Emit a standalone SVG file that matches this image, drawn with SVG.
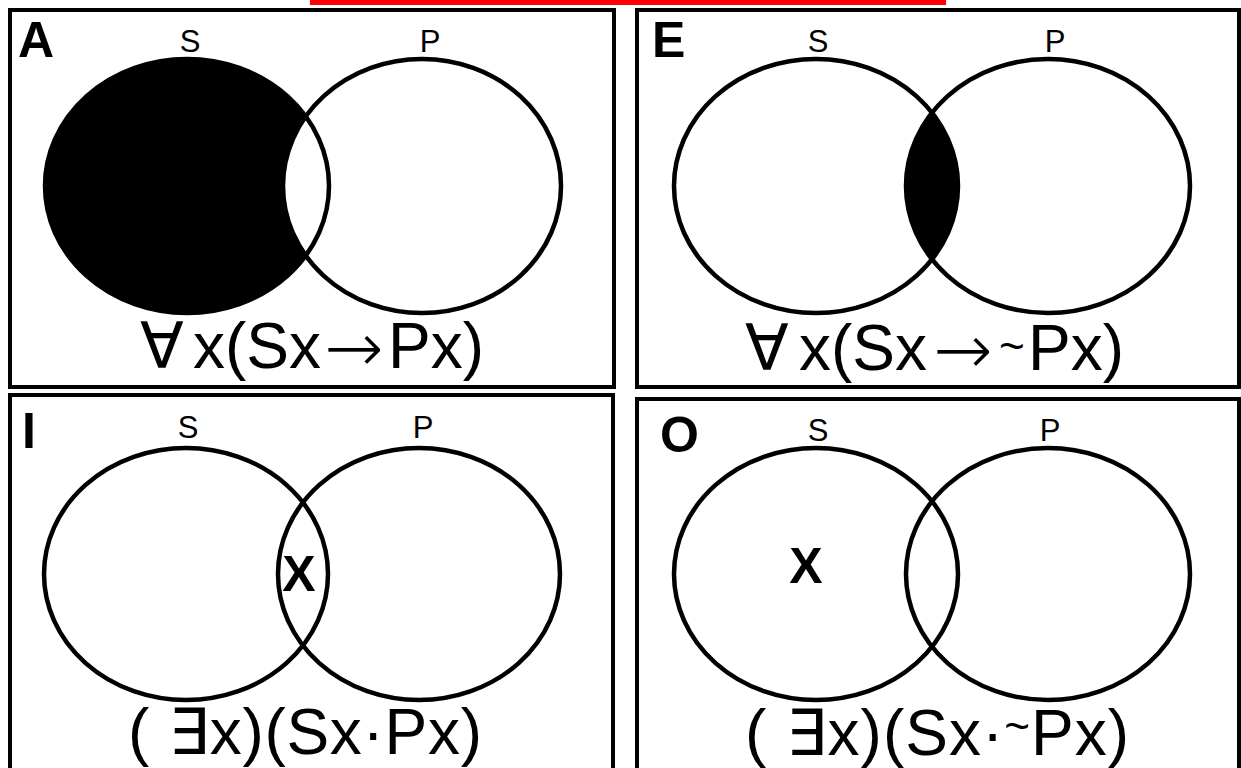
<svg xmlns="http://www.w3.org/2000/svg" width="1241" height="768" viewBox="0 0 1241 768">
<style>
.panel{fill:#fff;stroke:#000;stroke-width:4}
.c{fill:none;stroke:#000;stroke-width:4.5}
.lbl{font-family:"Liberation Sans",Arial,sans-serif;font-size:31px;fill:#000;text-anchor:middle}
.tag{font-family:"Liberation Sans",Arial,sans-serif;font-size:50px;font-weight:bold;fill:#000}
.f{font-family:"Liberation Sans","DejaVu Sans",Arial,sans-serif;font-size:64px;fill:#000}
.arr{font-family:"DejaVu Sans",sans-serif;font-size:74px;stroke:#fff;stroke-width:2.5}
.til{font-size:44px}
.x{font-family:"Liberation Sans",Arial,sans-serif;font-size:50px;font-weight:bold;fill:#000;text-anchor:middle}
</style>
<defs>
<clipPath id="clipA"><ellipse cx="187" cy="186" rx="142" ry="127"/></clipPath>
<clipPath id="clipE"><ellipse cx="816" cy="186" rx="142" ry="127"/></clipPath>
</defs>
<rect width="1241" height="768" fill="#fff"/>
<rect x="310" y="0" width="636" height="5" fill="#ff0000"/>

<g id="panelA">
<rect class="panel" x="10" y="10" width="604" height="377"/>
<ellipse cx="187" cy="186" rx="142" ry="127" fill="#000"/>
<ellipse cx="422" cy="186" rx="139" ry="127" fill="#fff" clip-path="url(#clipA)"/>
<ellipse class="c" cx="187" cy="186" rx="142" ry="127"/>
<ellipse class="c" cx="422" cy="186" rx="139" ry="127"/>
<text class="tag" x="18" y="57">A</text>
<text class="lbl" x="190" y="52">S</text>
<text class="lbl" x="430" y="52">P</text>
<text class="f" y="368"><tspan x="140">∀</tspan><tspan x="193">x(Sx</tspan><tspan class="arr" x="323" dy="5">→</tspan><tspan x="388" dy="-5">Px)</tspan></text>
</g>

<g id="panelE">
<rect class="panel" x="637" y="10" width="602" height="377"/>
<ellipse cx="1048" cy="186" rx="142" ry="127" fill="#000" clip-path="url(#clipE)"/>
<ellipse class="c" cx="816" cy="186" rx="142" ry="127"/>
<ellipse class="c" cx="1048" cy="186" rx="142" ry="127"/>
<text class="tag" x="652" y="57">E</text>
<text class="lbl" x="818" y="52">S</text>
<text class="lbl" x="1055" y="52">P</text>
<text class="f" y="370"><tspan x="745">∀</tspan><tspan x="799">x(Sx</tspan><tspan class="arr" x="932" dy="5">→</tspan><tspan class="til" x="999" dy="-14">~</tspan><tspan x="1028" dy="9">Px)</tspan></text>
</g>

<g id="panelI">
<rect class="panel" x="10" y="395" width="603" height="400"/>
<ellipse class="c" cx="186" cy="574" rx="142" ry="126"/>
<ellipse class="c" cx="419" cy="574" rx="141" ry="126"/>
<text class="tag" x="22" y="448">I</text>
<text class="lbl" x="188" y="438">S</text>
<text class="lbl" x="423" y="438">P</text>
<text class="x" x="299" y="591">X</text>
<text class="f" x="128" y="754" textLength="354" lengthAdjust="spacing">( ∃x)(Sx·Px)</text>
</g>

<g id="panelO">
<rect class="panel" x="637" y="399" width="602" height="400"/>
<ellipse class="c" cx="816" cy="574" rx="142" ry="126"/>
<ellipse class="c" cx="1048" cy="574" rx="142" ry="126"/>
<text class="tag" x="660" y="452">O</text>
<text class="lbl" x="818" y="441">S</text>
<text class="lbl" x="1050" y="441">P</text>
<text class="x" x="806" y="583">X</text>
<text class="f" x="745" y="755" textLength="384" lengthAdjust="spacing">( ∃x)(Sx·<tspan class="til" dy="-14">~</tspan><tspan dy="14">Px)</tspan></text>
</g>
<g id="connectors"/>
</svg>
